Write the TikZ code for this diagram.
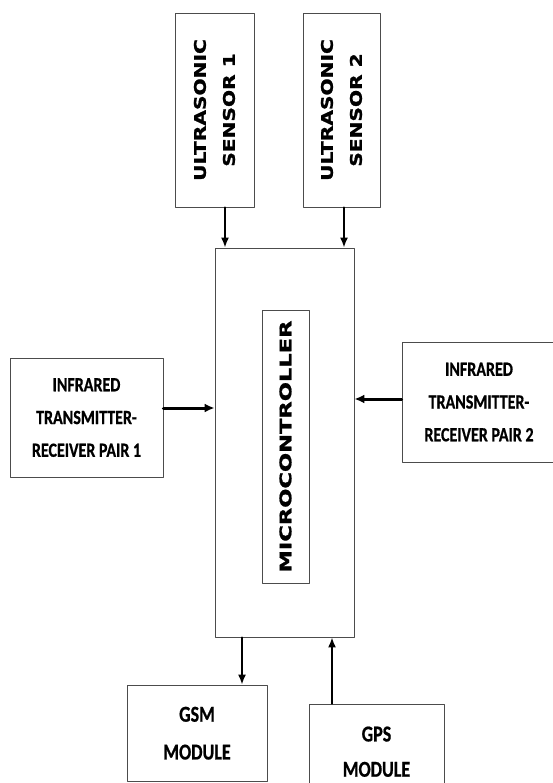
\documentclass[tikz,border=0pt]{standalone}
\usepackage{fontspec}
\usepackage{graphicx}
\usetikzlibrary{arrows.meta}
\newfontfamily\calfont[BoldFeatures={FakeBold=0.8}]{Carlito}
\newfontfamily\djfont[BoldFeatures={FakeBold=1.2}]{DejaVu Sans}
% 横書き(縦に伸ばす)
\newcommand{\caltxt}[3]{\scalebox{1}[1.26]{\calfont\bfseries\fontsize{#1}{#2}\selectfont\begin{tabular}{@{}c@{}}#3\end{tabular}}}
% 縦書き(90度回転)
\newcommand{\djtxt}[2]{\rotatebox{90}{\scalebox{#1}[1]{\djfont\bfseries\fontsize{16}{29}\selectfont\begin{tabular}{@{}c@{}}#2\end{tabular}}}}
\begin{document}
\begin{tikzpicture}[x=1pt, y=-1pt, line cap=round, line join=round,
    blk/.style={draw=black!70, line width=0.8pt, inner sep=0pt, fill=white},
    arr/.style={-{Latex[length=10pt,width=8pt]}, line width=1.8pt},
    thickarr/.style={-{Latex[length=10pt,width=9pt]}, line width=3pt}]
    \clip (0,0) rectangle (553,783);
    % --- 超音波センサ ---
    \node[blk, minimum width=79pt, minimum height=194pt] (us1) at (214.5,110) {\djtxt{1.26}{ULTRASONIC\\SENSOR 1}};
    \node[blk, minimum width=77pt, minimum height=194pt] (us2) at (341.5,110) {\djtxt{1.26}{ULTRASONIC\\SENSOR 2}};
    % --- マイコン ---
    \node[blk, minimum width=139pt, minimum height=389pt] (mcu) at (284.5,442.5) {};
    \node[blk, minimum width=47pt, minimum height=273pt] (mcutxt) at (285.5,446.5) {\djtxt{1.41}{MICROCONTROLLER}};
    % --- 赤外線 ---
    \node[blk, minimum width=153pt, minimum height=119pt] (ir1) at (86.5,417.5) {\caltxt{16}{26}{INFRARED\\TRANSMITTER-\\RECEIVER PAIR 1}};
    \node[blk, minimum width=154pt, minimum height=120pt] (ir2) at (479,402) {\caltxt{16}{26}{INFRARED\\TRANSMITTER-\\RECEIVER PAIR 2}};
    % --- GSM / GPS ---
    \node[blk, minimum width=140pt, minimum height=96pt] (gsm) at (197,733) {\caltxt{18}{30}{GSM\\MODULE}};
    \node[blk, minimum width=135pt, minimum height=96pt] (gps) at (376.5,752) {\caltxt{18}{28}{GPS\\MODULE}};
    % 矢印
    \draw[arr] ([xshift=10.5pt]us1.south) -- ([xshift=10.5pt]us1.south |- mcu.north);
    \draw[arr] ([xshift=2.5pt]us2.south) -- ([xshift=2.5pt]us2.south |- mcu.north);
    \draw[thickarr] ([yshift=9.5pt]ir1.east) -- ([yshift=9.5pt]ir1.east -| mcu.west);
    \draw[thickarr] ([yshift=3pt]ir2.west) -- ([yshift=3pt]ir2.west -| mcu.east);
    \draw[arr] ([xshift=45pt]gsm.north |- mcu.south) -- ([xshift=45pt]gsm.north);
    \draw[arr] ([xshift=-44.5pt]gps.north) -- ([xshift=-44.5pt]gps.north |- mcu.south);
\end{tikzpicture}
\end{document}
